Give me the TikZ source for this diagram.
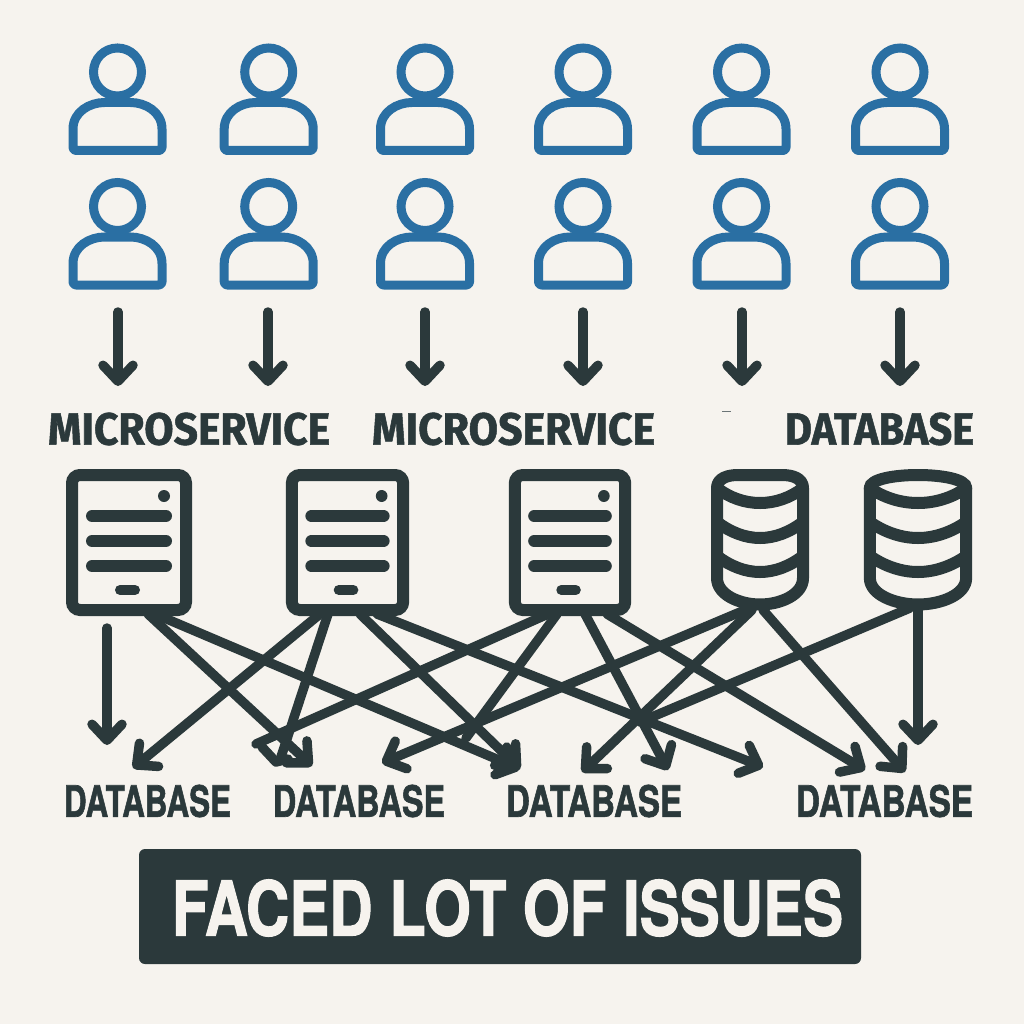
\documentclass[tikz,border=0pt]{standalone}
\usepackage{fontspec}
\usetikzlibrary{arrows.meta}
\newfontfamily\firafont{Fira Sans}[BoldFeatures={FakeBold=1.2}]
\newfontfamily\herosfont{TeX Gyre Heros}[BoldFeatures={FakeBold=1.6}]
\definecolor{ink}{HTML}{2B393B}
\definecolor{userblue}{HTML}{2A6FA3}
\definecolor{paper}{HTML}{F6F3EE}
\newcommand{\fitbox}[3]{\resizebox{#1pt}{#2pt}{#3}}
\tikzset{
  conn/.style={draw=ink,line width=9.5pt,line cap=round,line join=round,
    -{Straight Barb[length=16pt,width=30pt,round]}},
  plainconn/.style={draw=ink,line width=9.5pt,line cap=round,line join=round},
  textlabel/.style={inner sep=0pt,text=ink,font=\firafont\bfseries},
  dblabel/.style={inner sep=0pt,text=ink,font=\herosfont\bfseries},
  person/.pic={
    \draw[userblue,line width=9pt] (0,0) circle[radius=24];
    \draw[userblue,line width=9pt,line join=round,rounded corners=3pt]
      (-44.5,78.5) -- (-44.5,60) .. controls (-44.5,40) and (-28,30.5) .. (-10,30.5)
      -- (10,30.5) .. controls (28,30.5) and (44.5,40) .. (44.5,60) -- (44.5,78.5) -- cycle;
  },
  server/.pic={
    \draw[ink,line width=12pt,rounded corners=8pt] (-57,475) rectangle (57,610);
    \fill[ink] (35,496) circle[radius=6];
    \draw[ink,line width=12pt,line cap=round] (-37,516) -- (37,516) (-37,541) -- (37,541) (-37,566) -- (37,566);
    \draw[ink,line width=10pt,line cap=round] (-9,590) -- (6,590);
  },
  cylbody/.pic={
    \draw[ink,line width=12pt,line join=round] (-43,488) -- (-43,578)
      .. controls (-43,595) and (-20,604.5) .. (0,604.5)
      .. controls (20,604.5) and (43,595) .. (43,578) -- (43,488);
    \draw[ink,line width=12pt,line cap=round] (-43,488) .. controls (-30,498) and (-15,503) .. (0,503) .. controls (15,503) and (30,498) .. (43,488);
    \draw[ink,line width=12pt] (-43,522) .. controls (-30,532) and (-15,538) .. (0,538) .. controls (15,538) and (30,532) .. (43,522);
    \draw[ink,line width=12pt] (-43,556) .. controls (-30,566) and (-15,572) .. (0,572) .. controls (15,572) and (30,566) .. (43,556);
  }
}
\begin{document}
\begin{tikzpicture}[x=1pt,y=-1pt]
\fill[paper] (0,0) rectangle (1024,1024);
\useasboundingbox (0,0) rectangle (1024,1024);

% users
\foreach \n/\cx in {1/117.5,2/268.7,3/425,4/583,5/741.5,6/900}{
  \pic (ua\n) at (\cx,72) {person};
  \pic (ub\n) at (\cx,206.5) {person};
}

% arrows from the users down
\foreach \n/\cx in {1/118,2/268,3/425,4/583,5/742,6/900}{
  \coordinate (ufoot\n) at (\cx,312);
  \coordinate (uhead\n) at (\cx,386);
  \draw[conn] (ufoot\n) -- (uhead\n);
}

% labels
\node[textlabel] (m1) at (189,429) {\fitbox{282}{32}{MICROSERVICE}};
\node[textlabel] (m2) at (513.5,429) {\fitbox{283}{32}{MICROSERVICE}};
\node[textlabel] (d0) at (879.5,429) {\fitbox{189}{32}{DATABASE}};
\coordinate (dashl) at (722,411);
\coordinate (dashr) at (731,411);
\draw[ink!70,line width=1pt] (dashl) -- (dashr);

% servers and cylinders
\pic (srv1) at (129,0) {server};
\pic[xscale=.976] (srv2) at (347.5,0) {server};
\pic[xscale=.968] (srv3) at (570,0) {server};
\pic (cyla) at (760,0) {cylbody};
\draw[ink,line width=12pt,line join=round] (717,488) .. controls (717,478) and (728,475) .. (738,475) -- (782,475) .. controls (792,475) and (803,478) .. (803,488);
\pic[xscale=1.12] (cylb) at (918,0) {cylbody};
\draw[ink,line width=12pt] (869.8,488) .. controls (869.8,479) and (895,475) .. (918,475) .. controls (941,475) and (966.2,479) .. (966.2,488);

% connector ends
\coordinate (s1d) at (107,628);
\coordinate (s1a) at (148,614);
\coordinate (s1b) at (155,614);
\coordinate (s2a) at (320,614);
\coordinate (s2b) at (328,614);
\coordinate (s2c) at (360,614);
\coordinate (s2d) at (377,614);
\coordinate (s3a) at (548,614);
\coordinate (s3b) at (557,614);
\coordinate (s3c) at (585,614);
\coordinate (s3d) at (607,614);
\coordinate (c1a) at (745,610);
\coordinate (c1b) at (752,610);
\coordinate (c1c) at (763,610);
\coordinate (c2a) at (910,608);
\coordinate (c2b) at (918,610);
\coordinate (t1) at (107,745);
\coordinate (t2) at (133,768);
\coordinate (t3) at (312,766);
\coordinate (t4) at (382,763);
\coordinate (t5) at (520,769);
\coordinate (t6) at (582,772);
\coordinate (t7) at (668,770);
\coordinate (t8) at (763,767);
\coordinate (t9) at (865,770);
\coordinate (t10) at (905,772);
\coordinate (t11) at (918,745);
\coordinate (e1) at (256,744);
\coordinate (e2) at (281,757);
\coordinate (e3) at (466,738);
\coordinate (e4) at (640,722);
\coordinate (ch1) at (262,747);
\coordinate (ch2) at (276,762);
\coordinate (ch3) at (288,759);

\draw[conn] (s1d) -- (t1);
\draw[conn] (s1a) -- (t3);
\draw[conn] (s1b) -- (t5);
\draw[conn] (s2a) -- (t2);
\draw[plainconn] (s2b) -- (e2);
\draw[plainconn] (ch1) -- (ch2) -- (ch3);
\draw[conn] (s2c) -- (t5);
\draw[conn] (s2d) -- (t8);
\draw[plainconn] (s3a) -- (e1);
\draw[plainconn] (s3b) -- (e3);
\draw[conn] (s3c) -- (t7);
\draw[conn] (s3d) -- (t9);
\draw[conn] (c1a) -- (t4);
\draw[conn] (c1b) -- (t6);
\draw[conn] (c1c) -- (t10);
\draw[plainconn] (c2a) -- (e4);
\draw[conn] (c2b) -- (t11);

% bottom labels
\node[dblabel] (b1) at (147.5,801) {\fitbox{167}{32}{DATABASE}};
\node[dblabel] (b2) at (359,801) {\fitbox{172}{32}{DATABASE}};
\node[dblabel] (b3) at (594,801) {\fitbox{176}{32}{DATABASE}};
\node[dblabel] (b4) at (884.5,801) {\fitbox{177}{32}{DATABASE}};

% banner
\node[fill=ink,rounded corners=6pt,minimum width=722pt,minimum height=115pt,inner sep=0pt] (banner) at (500,906.5) {};
\node[inner sep=0pt,text=paper,font=\herosfont\bfseries] (bannertext) at (507.5,908) {\fitbox{671}{56}{FACED LOT OF ISSUES}};
\end{tikzpicture}
\end{document}
